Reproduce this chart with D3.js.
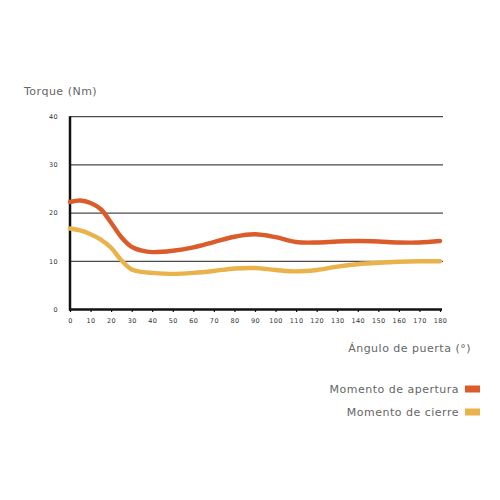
<!DOCTYPE html>
<html>
<head>
<meta charset="utf-8">
<script src="https://cdn.jsdelivr.net/npm/d3@7"></script>
<style>
  body { margin: 0; background: #fff; }
  text { font-family: "DejaVu Sans", sans-serif; }
</style>
</head>
<body>
<div id="wrapper"></div>
<script>
// datos
const angles = [0, 5, 10, 15, 20, 25, 30, 35, 40, 50, 60, 70, 80, 90, 100, 110, 120, 130, 140, 150, 160, 170, 180];
const apertura = [22.3, 22.6, 22.1, 20.8, 18.0, 15.0, 13.0, 12.2, 11.9, 12.2, 12.9, 14.0, 15.1, 15.6, 15.0, 14.0, 13.9, 14.1, 14.2, 14.1, 13.9, 13.9, 14.2];
const cierre = [16.8, 16.4, 15.6, 14.5, 12.8, 10.2, 8.3, 7.8, 7.6, 7.4, 7.6, 8.0, 8.5, 8.6, 8.2, 7.9, 8.2, 8.9, 9.4, 9.7, 9.9, 10.0, 10.0];
const xTicks = d3.range(0, 181, 10);
const yTicks = [0, 10, 20, 30, 40];
const seriesNames = ["Momento de apertura", "Momento de cierre"];
const seriesColors = ["#dc5b2a", "#e9b24b"];

const width = 500;
const height = 500;

const svg = d3.select("#wrapper").append("svg")
  .attr("width", width)
  .attr("height", height);

const x = d3.scaleLinear().domain([0, 180]).range([70, 440]);
const y = d3.scaleLinear().domain([0, 40]).range([309.5, 116.7]);

// rejilla
svg.append("g")
  .selectAll("line")
  .data(yTicks.filter((d) => d > 0))
  .join("line")
  .attr("x1", x(0))
  .attr("x2", 443)
  .attr("y1", (d) => y(d))
  .attr("y2", (d) => y(d))
  .attr("stroke", "#4a4a4a")
  .attr("stroke-width", 1.3);

// etiquetas eje y
svg.append("g")
  .selectAll("text")
  .data(yTicks)
  .join("text")
  .attr("x", 58)
  .attr("y", (d) => y(d))
  .attr("dy", "0.35em")
  .attr("text-anchor", "end")
  .attr("font-size", 6.5)
  .attr("letter-spacing", 0.4)
  .attr("fill", "#333")
  .text((d) => d);

// eje x
const xAxis = svg.append("g")
  .attr("transform", `translate(0,${y(0)})`)
  .call(d3.axisBottom(x).tickValues(xTicks).tickSize(2.5).tickPadding(6).tickSizeOuter(0));
xAxis.select(".domain").attr("stroke", "#111").attr("stroke-width", 2.5)
  .attr("d", `M${x(0) - 1},0H${x(180) + 2}`);
xAxis.selectAll(".tick line").attr("stroke", "#111").attr("stroke-width", 1.2);
xAxis.selectAll(".tick text")
  .attr("font-size", 6.5)
  .attr("letter-spacing", 0.4)
  .attr("fill", "#333")
  .attr("font-family", "DejaVu Sans, sans-serif");

// eje y
svg.append("line")
  .attr("x1", x(0))
  .attr("x2", x(0))
  .attr("y1", y(40) - 0.5)
  .attr("y2", y(0) + 1)
  .attr("stroke", "#111")
  .attr("stroke-width", 2.5);

// líneas
const line = d3.line()
  .x((d, i) => x(angles[i]))
  .y((d) => y(d))
  .curve(d3.curveCatmullRom.alpha(0.5));

[cierre, apertura].forEach((serie, i) => {
  svg.append("path")
    .attr("d", line(serie))
    .attr("fill", "none")
    .attr("stroke", seriesColors[1 - i])
    .attr("stroke-width", 4.4)
    .attr("stroke-linecap", "round");
});

// títulos
svg.append("text")
  .attr("x", 24)
  .attr("y", 95)
  .attr("font-size", 11)
  .attr("letter-spacing", 0.5)
  .attr("fill", "#666")
  .text("Torque (Nm)");

svg.append("text")
  .attr("x", 471)
  .attr("y", 352)
  .attr("text-anchor", "end")
  .attr("font-size", 11)
  .attr("letter-spacing", 0.5)
  .attr("fill", "#666")
  .text("Ángulo de puerta (°)");

// leyenda
const legend = svg.append("g")
  .selectAll("g")
  .data(seriesNames)
  .join("g")
  .attr("transform", (d, i) => `translate(0,${389 + i * 23})`);

legend.append("text")
  .attr("x", 459)
  .attr("dy", "0.35em")
  .attr("text-anchor", "end")
  .attr("font-size", 11)
  .attr("letter-spacing", 0.5)
  .attr("fill", "#666")
  .text((d) => d);

legend.append("rect")
  .attr("x", 465)
  .attr("y", -3.5)
  .attr("width", 15)
  .attr("height", 7)
  .attr("fill", (d, i) => seriesColors[i]);
</script>
</body>
</html>
